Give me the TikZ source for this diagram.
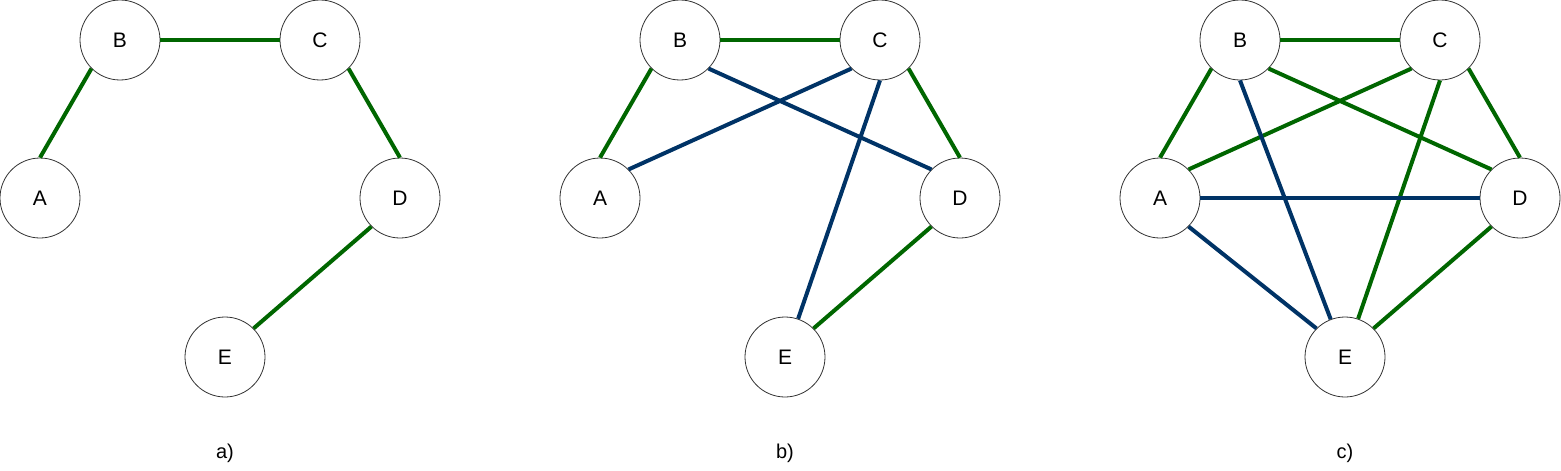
\documentclass[tikz,border=0pt]{standalone}
\usepackage{fontspec}
\setmainfont{Liberation Sans}
\definecolor{eg}{HTML}{006600}
\definecolor{eb}{HTML}{003366}
\begin{document}
\begin{tikzpicture}[x=1pt,y=-1pt,
  vert/.style={circle,draw=black!80,line width=0.8pt,fill=white,minimum size=80pt,inner sep=0pt,font=\fontsize{21}{25}\selectfont},
  ge/.style={draw=eg,line width=4pt},
  be/.style={draw=eb,line width=4pt},
  sublabel/.style={font=\fontsize{20}{24}\selectfont}]
\useasboundingbox (0,0) rectangle (1561,471);
% a
\node[vert] (aB) at (120,40) {B};
\node[vert] (aC) at (320,40) {C};
\node[vert] (aA) at (40,198) {A};
\node[vert] (aD) at (400,198) {D};
\node[vert] (aE) at (225,357) {E};
\node[sublabel] (la) at (225,453) {a)};
% b
\node[vert] (bB) at (680,40) {B};
\node[vert] (bC) at (880,40) {C};
\node[vert] (bA) at (600,198) {A};
\node[vert] (bD) at (960,198) {D};
\node[vert] (bE) at (785,357) {E};
\node[sublabel] (lb) at (785,453) {b)};
% c
\node[vert] (cB) at (1240,40) {B};
\node[vert] (cC) at (1440,40) {C};
\node[vert] (cA) at (1160,198) {A};
\node[vert] (cD) at (1520,198) {D};
\node[vert] (cE) at (1345,357) {E};
\node[sublabel] (lc) at (1345,453) {c)};
% edges a
\draw[ge] (aB.225) -- (aA.north);
\draw[ge] (aB) -- (aC);
\draw[ge] (aC.315) -- (aD.north);
\draw[ge] (aD.225) -- (aE.45);
% edges b
\draw[ge] (bB.225) -- (bA.north);
\draw[ge] (bB) -- (bC);
\draw[ge] (bC.315) -- (bD.north);
\draw[ge] (bD.225) -- (bE.45);
\draw[be] (bB.315) -- (bD.135);
\draw[be] (bC.225) -- (bA.45);
\draw[be] (bC.south) -- (bE);
% edges c
\draw[ge] (cB.225) -- (cA.north);
\draw[ge] (cB) -- (cC);
\draw[ge] (cC.315) -- (cD.north);
\draw[ge] (cD.225) -- (cE.45);
\draw[ge] (cB.315) -- (cD.135);
\draw[ge] (cC.225) -- (cA.45);
\draw[ge] (cC.south) -- (cE);
\draw[be] (cA) -- (cD);
\draw[be] (cA.315) -- (cE.135);
\draw[be] (cB.south) -- (cE);
\end{tikzpicture}
\end{document}
